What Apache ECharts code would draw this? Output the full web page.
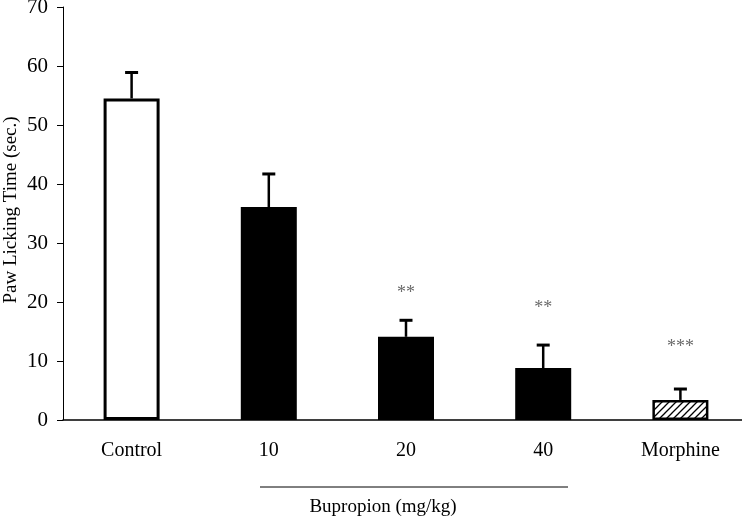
<!DOCTYPE html>
<html>
<head>
<meta charset="utf-8">
<script src="https://cdn.jsdelivr.net/npm/echarts@6/dist/echarts.min.js"></script>
<style>html,body{margin:0;padding:0;background:#fff;}#c{width:742px;height:519px;}</style>
</head>
<body>
<div id="c"></div>
<script>
var categories = ['Control', '10', '20', '40', 'Morphine'];
var means = [54.5, 36.1, 14.1, 8.8, 3.4];
var sems = [4.4, 5.6, 2.8, 3.9, 1.85];
var sigLabels = ['', '', '**', '**', '***'];
var sigHeights = [null, null, 21.5, 19.0, 12.4];
var yTicks = [0, 10, 20, 30, 40, 50, 60, 70];
var groupTitle = 'Bupropion (mg/kg)';
var yTitle = 'Paw Licking Time (sec.)';

// hatch pattern
var pc = document.createElement('canvas');
pc.width = 7; pc.height = 7;
var ctx = pc.getContext('2d');
ctx.fillStyle = '#fff'; ctx.fillRect(0, 0, 7, 7);
ctx.strokeStyle = '#000'; ctx.lineWidth = 1.3;
ctx.beginPath();
ctx.moveTo(-1, 8); ctx.lineTo(8, -1);
ctx.moveTo(-4, 4); ctx.lineTo(4, -4);
ctx.moveTo(3, 11); ctx.lineTo(11, 3);
ctx.stroke();

var barStyles = [
  { color: '#fff', borderColor: '#000', borderWidth: 3 },
  { color: '#000' },
  { color: '#000' },
  { color: '#000' },
  { color: { image: pc, repeat: 'repeat' }, borderColor: '#000', borderWidth: 2.5 }
];

var barData = means.map(function (v, i) { return { value: v, itemStyle: barStyles[i] }; });
var errData = means.map(function (v, i) { return [i, v, v + sems[i]]; });
var sigData = sigHeights.map(function (h, i) { return h == null ? null : { value: [i, h], label: { formatter: sigLabels[i] } }; }).filter(function (d) { return d; });

var font = 'Liberation Serif';
var chart = echarts.init(document.getElementById('c'), null, { renderer: 'canvas' });
chart.setOption({
  animation: false,
  backgroundColor: '#fff',
  grid: { left: 63, top: 7, width: 686, height: 413, containLabel: false, outerBoundsMode: 'none' },
  xAxis: {
    type: 'category',
    data: categories,
    axisLine: { lineStyle: { color: '#000', width: 1.5 } },
    axisTick: { show: false },
    axisLabel: { color: '#000', fontFamily: font, fontSize: 20, margin: 21 },
    splitLine: { show: false }
  },
  yAxis: {
    type: 'value',
    min: yTicks[0], max: yTicks[yTicks.length - 1], interval: 10,
    axisLine: { show: true, lineStyle: { color: '#000', width: 1 } },
    axisTick: { show: true, length: 6, lineStyle: { color: '#000' } },
    axisLabel: { color: '#000', fontFamily: font, fontSize: 21, margin: 15 },
    splitLine: { show: false }
  },
  series: [
    {
      type: 'bar',
      data: barData,
      barWidth: 56,
      z: 2
    },
    {
      type: 'custom',
      z: 3,
      data: errData,
      renderItem: function (params, api) {
        var b = api.coord([api.value(0), api.value(1)]);
        var t = api.coord([api.value(0), api.value(2)]);
        return {
          type: 'group',
          children: [
            { type: 'line', shape: { x1: b[0], y1: b[1], x2: t[0], y2: t[1] }, style: { stroke: '#000', lineWidth: 2.5 } },
            { type: 'line', shape: { x1: t[0] - 6.5, y1: t[1], x2: t[0] + 6.5, y2: t[1] }, style: { stroke: '#000', lineWidth: 3 } }
          ]
        };
      }
    },
    {
      type: 'scatter',
      symbolSize: 0,
      data: sigData,
      label: { show: true, position: 'inside', color: '#444', fontFamily: font, fontSize: 18 },
      z: 4
    }
  ],
  graphic: [
    { type: 'text', x: 11, y: 210, rotation: Math.PI / 2, style: { text: yTitle, fill: '#000', font: '19px "Liberation Serif"', textAlign: 'center', textVerticalAlign: 'middle' } },
    { type: 'line', shape: { x1: 260, y1: 487, x2: 568, y2: 487 }, style: { stroke: '#000', lineWidth: 1 } },
    { type: 'text', x: 383, y: 507, style: { text: groupTitle, fill: '#000', font: '19px "Liberation Serif"', textAlign: 'center', textVerticalAlign: 'middle' } }
  ]
});
</script>
</body>
</html>
